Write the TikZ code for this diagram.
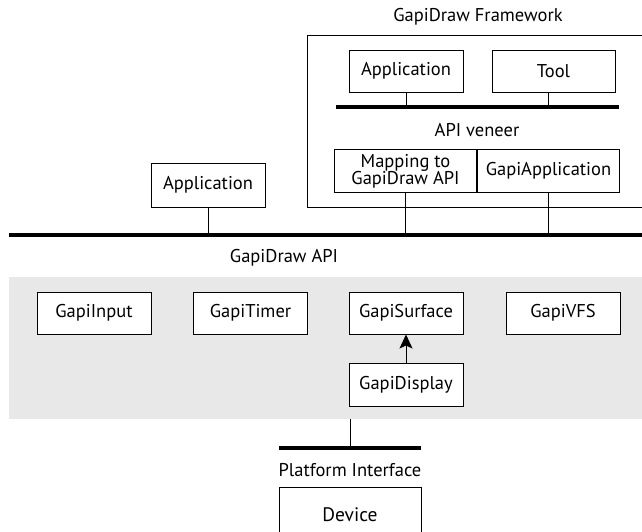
\documentclass[tikz,border=0pt]{standalone}
\usepackage{fontspec}
\setmainfont{PT Sans}
\usepackage{xcolor}
\usetikzlibrary{arrows.meta, positioning}
\definecolor{panelgray}{RGB}{232,232,232}

\begin{document}
\begin{tikzpicture}[
  x=1pt, y=-1pt,
  font=\fontsize{18.5}{20}\selectfont,
  box/.style={draw, line width=1pt, fill=white, minimum width=114pt, minimum height=42pt, inner sep=2pt, align=center},
  widebox/.style={box, minimum width=142pt, minimum height=43pt},
  bus/.style={line width=4.5pt},
  link/.style={line width=0.9pt},
  arrow/.style={-{Stealth[length=14pt, width=13pt, inset=3pt]}, line width=0.9pt}
]
  \useasboundingbox (0,0) rectangle (642,531);

  % gray panel behind the core classes
  \fill[panelgray] (9,277) rectangle (642,419);

  % framework frame (open to the right)
  \draw[line width=1pt] (643,35) -- (307,35) -- (307,207) -- (643,207);
  \node (fwtitle) at (478,17) {GapiDraw Framework};

  % framework contents
  \node[box] (fwapp)  at (406,71) {Application};
  \node[box, minimum width=123pt] (tool) at (553.5,71) {Tool};
  \coordinate (vbusL) at (336,107);
  \coordinate (vbusR) at (619,107);
  \draw[bus, line width=4pt] (vbusL) -- (vbusR);
  \node (veneer) at (477,130) {API veneer};
  \node[widebox, anchor=north east] (mapping) at (477,149) {Mapping to\\[-3pt]GapiDraw API};
  \node[widebox, anchor=north west] (gapiapp) at (477,149) {GapiApplication};

  \draw[link] (fwapp) -- (fwapp |- vbusL);
  \draw[link] (tool.south -| gapiapp) -- (gapiapp |- vbusL);

  % main API bus
  \coordinate (busL) at (9,235);
  \coordinate (busR) at (643,235);
  \draw[bus] (busL) -- (busR);
  \node (apilabel) at (284,258) {GapiDraw API};

  \node[box, minimum height=44pt] (app) at (208,185) {Application};
  \draw[link] (app) -- (app |- busL);
  \draw[link] (mapping) -- (mapping |- busL);
  \draw[link] (gapiapp) -- (gapiapp |- busL);

  % core classes
  \node[box] (input)   at (94,313)    {GapiInput};
  \node[box] (timer)   at (250.5,313) {GapiTimer};
  \node[box] (surface) at (406,313)   {GapiSurface};
  \node[box] (vfs)     at (563,313)   {GapiVFS};
  \node[box, minimum height=43pt] (display) at (406,384.5) {GapiDisplay};
  \draw[arrow] (display) -- (surface);

  % platform side
  \coordinate (pbusL) at (279,448);
  \coordinate (pbusR) at (421,448);
  \coordinate (pdrop) at (350,419);
  \draw[bus, line width=4pt] (pbusL) -- (pbusR);
  \draw[link] (pdrop) -- (pdrop |- pbusL);
  \node (platform) at (350,470) {Platform Interface};
  \node[box, minimum width=142pt, minimum height=54pt, anchor=north, font=\fontsize{19.5}{21}\selectfont] (device) at (350,487) {Device};
\end{tikzpicture}
\end{document}
